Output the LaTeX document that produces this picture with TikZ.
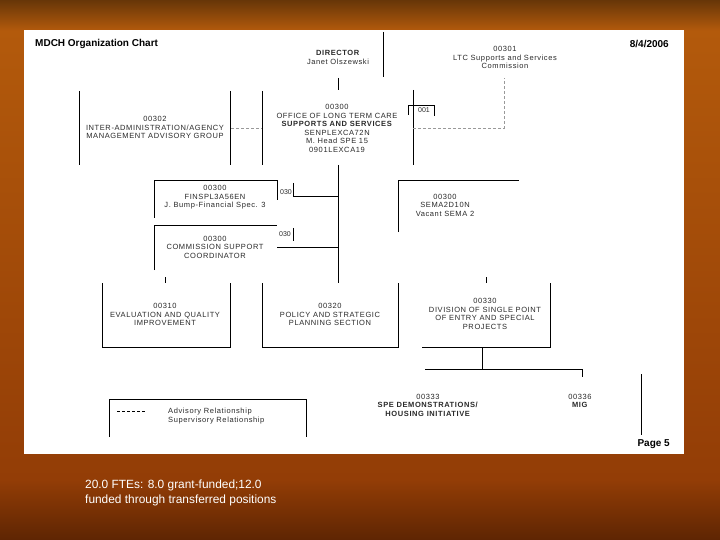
\documentclass[tikz,border=0pt]{standalone}
\usepackage{fontspec}
\setmainfont{Liberation Sans}
\newfontfamily\chartfont[LetterSpace=8]{Liberation Sans}
\definecolor{bgtop}{HTML}{673608}
\definecolor{bgmid}{HTML}{B35A0C}
\definecolor{bglow}{HTML}{933D06}
\definecolor{bgbot}{HTML}{5E2503}
\definecolor{ink}{HTML}{2A2A2A}
\tikzset{
  txt/.style={font=\chartfont\fontsize{7.5}{8.5}\selectfont, text=ink, inner sep=0pt, align=center},
  sml/.style={font=\fontsize{7}{8}\selectfont, text=ink, inner sep=0pt},
  ln/.style={draw=black, line width=0.8pt},
  dl/.style={draw=gray!80, line width=0.8pt, dash pattern=on 3pt off 2pt},
  hdr/.style={inner sep=0pt, font=\fontsize{10}{11}\bfseries\selectfont},
}
\begin{document}
\begin{tikzpicture}[x=1pt,y=-1pt]
\useasboundingbox (0,0) rectangle (720,540);
% background
\shade[top color=bgmid, bottom color=bglow] (0,30) rectangle (720,480);
\shade[top color=bgtop, bottom color=bgmid] (0,0) rectangle (720,30.5);
\shade[top color=bglow, bottom color=bgbot] (0,479.5) rectangle (720,540);
\fill[white] (24,30) rectangle (684,454);

% header
\node[hdr, anchor=west] (title) at (35,44) {MDCH Organization Chart};
\node[hdr, anchor=east] (date) at (669,44) {8/4/2006};
\node[txt] (dir) at (338,57.5) {\textbf{DIRECTOR}\\Janet Olszewski};
\node[txt] (ltc) at (505,57.5) {00301\\LTC Supports and Services\\Commission};
\draw[ln] (383,32) -- (383,77);
\draw[ln] (338,78) -- (338,90);

% advisory group
\draw[ln] (79,91) -- (79,165);
\draw[ln] (230,91) -- (230,165);
\node[txt] (adv) at (155,127.5) {00302\\INTER-ADMINISTRATION/AGENCY\\MANAGEMENT ADVISORY GROUP};
\draw[dl] (231,128) -- (262,128);

% office
\draw[ln] (262,91) -- (262,165);
\draw[ln] (413,90) -- (413,165);
\draw[ln] (408,115) -- (408,105) -- (434,105) -- (434,116);
\node[sml] (b001) at (424,110) {001};
\node[txt] (off) at (337,128.5) {00300\\OFFICE OF LONG TERM CARE\\\textbf{SUPPORTS AND SERVICES}\\SENPLEXCA72N\\M. Head SPE 15\\0901LEXCA19};
\draw[dl] (413,128) -- (504,128) -- (504,78);

% trunk
\draw[ln] (338,165) -- (338,283);

% FINSPL
\draw[ln] (154,218) -- (154,180) -- (277,180) -- (277,200);
\node[txt] (fin) at (215,197.5) {00300\\FINSPL3A56EN\\J. Bump-Financial Spec. 3};
\node[sml] (c030a) at (286,192) {030};
\draw[ln] (293,183) -- (293,196) -- (338,196);

% Commission support
\draw[ln] (154,270) -- (154,225) -- (277,225);
\node[txt] (com) at (215,247) {00300\\COMMISSION SUPPORT\\COORDINATOR};
\node[sml] (c030b) at (285,234) {030};
\draw[ln] (293,228) -- (293,241);
\draw[ln] (277,247) -- (338,247);

% SEMA
\draw[ln] (398,232) -- (398,180) -- (519,180);
\node[txt] (sema) at (445,205) {00300\\SEMA2D10N\\Vacant SEMA 2};

% ticks
\draw[ln] (165,277) -- (165,283);
\draw[ln] (486,277) -- (486,283);

% Evaluation
\draw[ln] (102,283) -- (102,347) -- (230,347) -- (230,283);
\node[txt] (eval) at (165,314.5) {00310\\EVALUATION AND QUALITY\\IMPROVEMENT};
% Policy
\draw[ln] (262,283) -- (262,347) -- (398,347) -- (398,283);
\node[txt] (pol) at (330,314.5) {00320\\POLICY AND STRATEGIC\\PLANNING SECTION};
% Division
\draw[ln] (422,347) -- (550,347) -- (550,283);
\node[txt] (div) at (485,314) {00330\\DIVISION OF SINGLE POINT\\OF ENTRY AND SPECIAL\\PROJECTS};
\draw[ln] (482,347) -- (482,369);
\draw[ln] (425,369) -- (582,369) -- (582,377);

% bottom units
\node[txt] (spe) at (428,405) {00333\\\textbf{SPE DEMONSTRATIONS/}\\\textbf{HOUSING INITIATIVE}};
\node[txt] (mig) at (580,401) {00336\\\textbf{MIG}};
\draw[ln] (641,374) -- (641,435);

% legend
\draw[ln] (109,437) -- (109,399) -- (306,399) -- (306,437);
\draw[line width=0.8pt, dash pattern=on 3pt off 2pt] (117,411) -- (145,411);
\node[txt, anchor=west, align=left] (leg) at (168,416) {Advisory Relationship\\Supervisory Relationship};

\node[hdr, anchor=east] (page) at (670,444) {Page 5};

% caption
\node[anchor=north west, inner sep=0pt, align=left, text=white, font=\fontsize{11.9}{15.5}\selectfont] (cap) at (85,479.5) {20.0 FTEs: 8.0 grant-funded;12.0\\funded through transferred positions};
\end{tikzpicture}
\end{document}
